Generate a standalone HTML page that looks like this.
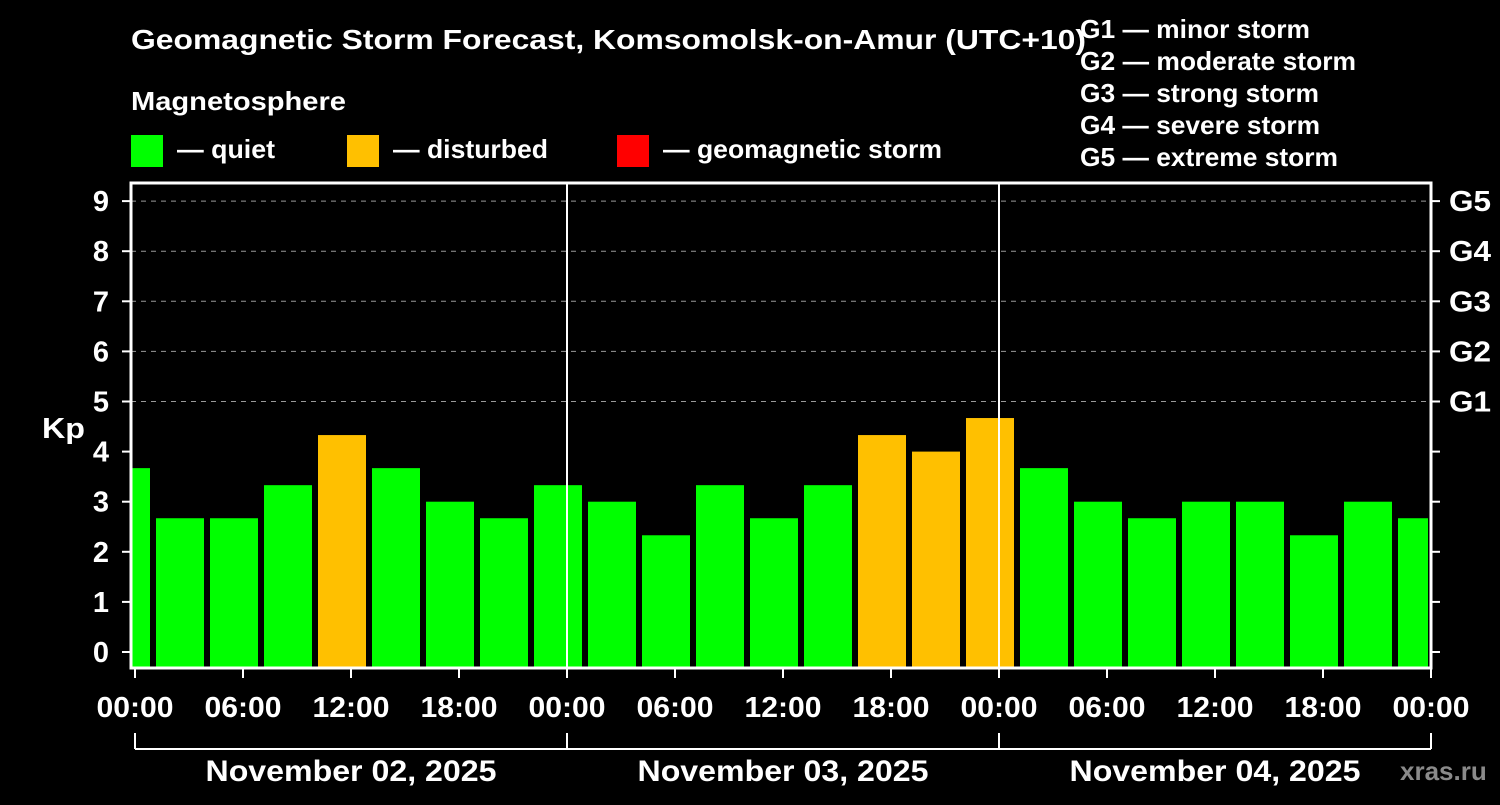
<!DOCTYPE html>
<html><head><meta charset="utf-8"><style>
body{margin:0;background:#000;width:1500px;height:800px;overflow:hidden}
svg text{font-family:"Liberation Sans",sans-serif;font-weight:bold;fill:#fff}
</style></head><body>
<svg id="c" width="1500" height="800">
<text x="131" y="49" font-size="28" textLength="955" lengthAdjust="spacingAndGlyphs">Geomagnetic Storm Forecast, Komsomolsk-on-Amur (UTC+10)</text>
<text x="131" y="110" font-size="26" textLength="215" lengthAdjust="spacingAndGlyphs">Magnetosphere</text>
<g>
<rect x="131" y="135" width="32" height="32" fill="#00ff00"/>
<text x="177" y="158" font-size="26" textLength="98" lengthAdjust="spacingAndGlyphs">— quiet</text>
<rect x="347" y="135" width="32" height="32" fill="#ffc000"/>
<text x="393" y="158" font-size="26" textLength="155" lengthAdjust="spacingAndGlyphs">— disturbed</text>
<rect x="617" y="135" width="32" height="32" fill="#ff0000"/>
<text x="663" y="158" font-size="26" textLength="279" lengthAdjust="spacingAndGlyphs">— geomagnetic storm</text>
</g>
<g font-size="26">
<text x="1080" y="38" textLength="230" lengthAdjust="spacingAndGlyphs">G1 — minor storm</text>
<text x="1080" y="70" textLength="276" lengthAdjust="spacingAndGlyphs">G2 — moderate storm</text>
<text x="1080" y="102" textLength="239" lengthAdjust="spacingAndGlyphs">G3 — strong storm</text>
<text x="1080" y="134" textLength="240" lengthAdjust="spacingAndGlyphs">G4 — severe storm</text>
<text x="1080" y="166" textLength="258" lengthAdjust="spacingAndGlyphs">G5 — extreme storm</text>
</g>
<text x="42" y="438" font-size="29" textLength="43" lengthAdjust="spacingAndGlyphs">Kp</text>
<g id="plot"></g>
<text x="1400" y="780" font-size="26" style="fill:#8a8a8a">xras.ru</text>
</svg>
<script>
const kpValues=[3.67,2.67,2.67,3.33,4.33,3.67,3.0,2.67,3.33,3.0,2.33,3.33,2.67,3.33,4.33,4.0,4.67,3.67,3.0,2.67,3.0,3.0,2.33,3.0,2.67];
const yTicks=[0,1,2,3,4,5,6,7,8,9];
const gLabels=["G1","G2","G3","G4","G5"];
const gLevels=[5,6,7,8,9];
const xTickLabels=["00:00","06:00","12:00","18:00","00:00","06:00","12:00","18:00","00:00","06:00","12:00","18:00","00:00"];
const dayLabels=["November 02, 2025","November 03, 2025","November 04, 2025"];
const NS="http://www.w3.org/2000/svg";
const L=131,R=1431,T=183,B=668,X0=135,HPX=18;
const y=v=>652-50.1*v;
const xh=h=>X0+h*HPX;
const g=document.getElementById('plot');
function mk(t,a,p){const e=document.createElementNS(NS,t);for(const k in a)e.setAttribute(k,a[k]);(p||g).appendChild(e);return e;}
yTicks.forEach(v=>{if(v>=5){const l=mk('line',{x1:L,x2:R,y1:y(v),y2:y(v),stroke:'#999','stroke-dasharray':'5,5','stroke-width':1});

}});
kpValues.forEach((v,i)=>{const c=xh(i*3-0.5);let x1=Math.max(c-24,L+1),x2=Math.min(c+24,R-3);
const r=mk('rect',{x:x1,y:y(v),width:x2-x1,height:B-y(v),fill:v>=5?'#ff0000':(v>=4?'#ffc000':'#00ff00')});

});
[1,2].forEach(d=>{const l=mk('line',{x1:xh(d*24),x2:xh(d*24),y1:T,y2:B,stroke:'#fff','stroke-width':2});

});
const f=mk('rect',{x:L,y:T,width:R-L,height:B-T,fill:'none',stroke:'#fff','stroke-width':3});


yTicks.forEach(v=>{mk('line',{x1:L-9,x2:L,y1:y(v),y2:y(v),stroke:'#fff','stroke-width':2});
mk('line',{x1:R,x2:R+9,y1:y(v),y2:y(v),stroke:'#fff','stroke-width':2});
const t=mk('text',{x:L-22,y:y(v)+10,'text-anchor':'end','font-size':29});t.textContent=v;

});
gLabels.forEach((s,i)=>{const t=mk('text',{x:1449,y:y(gLevels[i])+10,'font-size':29,textLength:42,lengthAdjust:'spacingAndGlyphs'});t.textContent=s;

});
xTickLabels.forEach((s,i)=>{const x=xh(i*6);mk('line',{x1:x,x2:x,y1:B,y2:B+10,stroke:'#fff','stroke-width':2});
const t=mk('text',{x:x,y:717,'text-anchor':'middle','font-size':29,textLength:77,lengthAdjust:'spacingAndGlyphs'});t.textContent=s;

});
mk('line',{x1:xh(0),x2:xh(72),y1:749,y2:749,stroke:'#fff','stroke-width':2});
[0,1,2,3].forEach(d=>mk('line',{x1:xh(d*24),x2:xh(d*24),y1:733,y2:749,stroke:'#fff','stroke-width':2}));
dayLabels.forEach((s,i)=>{const t=mk('text',{x:xh(i*24+12),y:781,'text-anchor':'middle','font-size':30,textLength:291,lengthAdjust:'spacingAndGlyphs'});t.textContent=s;

});
</script>
</body></html>
